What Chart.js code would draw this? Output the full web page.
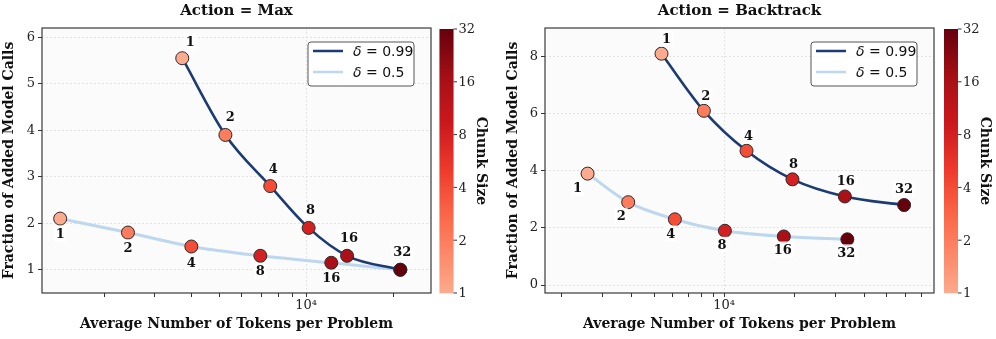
<!DOCTYPE html>
<html>
<head>
<meta charset="utf-8">
<script src="https://cdn.jsdelivr.net/npm/chart.js@4"></script>
<style>
  body { margin: 0; background: #fff; width: 996px; height: 339px; overflow: hidden; display: flex; }
  canvas { display: block; }
</style>
</head>
<body>
<canvas id="maxChart" width="498" height="339"></canvas>
<canvas id="backChart" width="498" height="339"></canvas>
<script>
const chunkSizes = [1, 2, 4, 8, 16, 32];

// Action = Max
const maxTokensHigh = [3730, 5260, 7520, 10210, 13870, 21200];
const maxCallsHigh = [5.55, 3.9, 2.8, 1.9, 1.3, 1.0];
const maxTokensLow = [1410, 2420, 4010, 6950, 12230, 21200];
const maxCallsLow = [2.1, 1.8, 1.5, 1.3, 1.15, 1.0];

// Action = Backtrack
const btTokensHigh = [5380, 8180, 12470, 19640, 32970, 59230];
const btCallsHigh = [8.1, 6.1, 4.7, 3.7, 3.1, 2.8];
const btTokensLow = [2590, 3870, 6140, 10070, 18030, 33790];
const btCallsLow = [3.9, 2.9, 2.3, 1.9, 1.7, 1.6];

const maxYTicks = [1, 2, 3, 4, 5, 6];
const btYTicks = [0, 2, 4, 6, 8];
const xTickValues = [2000, 3000, 4000, 5000, 6000, 7000, 8000, 9000, 10000,
  20000, 30000, 40000, 50000, 60000, 70000, 80000, 90000];
const colorbarTicks = [1, 2, 4, 8, 16, 32];
const legendLabels = ["0.99", "0.5"];

const darkBlue = "#1b3b72";
const lightBlue = "#bcd7ee";
const serif = "'DejaVu Serif', serif";

// matplotlib "Reds", cut to its upper part like the colorbar
const redsStops = ["#fff5f0", "#fee0d2", "#fcbba1", "#fc9272", "#fb6a4a", "#ef3b2c", "#cb181d", "#a50f15", "#67000d"];
function hexRgb(h) {
  return [parseInt(h.slice(1, 3), 16), parseInt(h.slice(3, 5), 16), parseInt(h.slice(5, 7), 16)];
}
function reds(t) {
  const p = Math.max(0, Math.min(1, t)) * (redsStops.length - 1);
  const i = Math.min(Math.floor(p), redsStops.length - 2);
  const f = p - i;
  const a = hexRgb(redsStops[i]), b = hexRgb(redsStops[i + 1]);
  const c = a.map((v, k) => Math.round(v + (b[k] - v) * f));
  return `rgb(${c[0]},${c[1]},${c[2]})`;
}
const chunkColor = c => reds(0.3 + 0.7 * Math.log2(c) / 5);

const panelPlugin = {
  id: "panel",
  beforeDraw(chart) {
    const { ctx, chartArea: a } = chart;
    ctx.save();
    ctx.fillStyle = "#ffffff";
    ctx.fillRect(0, 0, chart.width, chart.height);
    ctx.fillStyle = "#fbfbfb";
    ctx.fillRect(a.left, a.top, a.right - a.left, a.bottom - a.top);
    ctx.restore();
  },
  afterDatasetsDraw(chart) {
    const { ctx } = chart;
    const p = chart.options.plugins.panel;
    ctx.save();
    ctx.font = `bold 13px ${serif}`;
    ctx.textAlign = "center";
    ctx.textBaseline = "middle";
    [0, 1].forEach(di => {
      const meta = chart.getDatasetMeta(di);
      meta.data.forEach((pt, i) => {
        const off = p.offsets[di][i];
        if (!off) return;
        const txt = String(chunkSizes[i]);
        const x = pt.x + off[0], y = pt.y + off[1];
        const w = ctx.measureText(txt).width;
        ctx.fillStyle = "rgba(255,255,255,0.8)";
        ctx.fillRect(x - w / 2 - 2, y - 8, w + 4, 16);
        ctx.fillStyle = "#111";
        ctx.fillText(txt, x, y + 1);
      });
    });
    ctx.restore();
  },
  afterDraw(chart) {
    const { ctx, chartArea: a } = chart;
    const p = chart.options.plugins.panel;
    ctx.save();
    // frame
    ctx.strokeStyle = "#3a3a3a";
    ctx.lineWidth = 1.2;
    ctx.strokeRect(a.left, a.top, a.right - a.left, a.bottom - a.top);

    // title
    ctx.fillStyle = "#111";
    ctx.font = `bold 15px ${serif}`;
    ctx.textAlign = "center";
    ctx.textBaseline = "middle";
    ctx.fillText(p.title, (a.left + a.right) / 2, 11);

    // legend
    const bw = 106, bh = 44;
    const bx = a.right - 17 - bw, by = a.top + 14;
    ctx.beginPath();
    ctx.roundRect(bx, by, bw, bh, 3);
    ctx.fillStyle = "rgba(255,255,255,0.85)";
    ctx.fill();
    ctx.strokeStyle = "#555";
    ctx.lineWidth = 1;
    ctx.stroke();
    [darkBlue, lightBlue].forEach((col, i) => {
      const ry = by + 9 + i * 21;
      ctx.strokeStyle = col;
      ctx.lineWidth = 2.5;
      ctx.beginPath();
      ctx.moveTo(bx + 5, ry);
      ctx.lineTo(bx + 35, ry);
      ctx.stroke();
      ctx.fillStyle = "#111";
      ctx.textAlign = "left";
      ctx.font = "italic 14px 'DejaVu Sans', sans-serif";
      ctx.fillText("δ", bx + 45, ry + 1);
      const dw = ctx.measureText("δ").width;
      ctx.font = "14px 'DejaVu Sans', sans-serif";
      ctx.fillText(" = " + legendLabels[i], bx + 45 + dw, ry + 1);
    });

    // colorbar
    const cx = a.right + p.cbGap, cw = 14;
    const top = a.top + 1, bot = a.bottom;
    for (let y = top; y < bot; y++) {
      const f = (bot - y) / (bot - top);
      ctx.fillStyle = reds(0.3 + 0.7 * f);
      ctx.fillRect(cx, y, cw, 1.2);
    }
    ctx.strokeStyle = "#333";
    ctx.lineWidth = 1;
    ctx.font = `13px ${serif}`;
    ctx.fillStyle = "#222";
    ctx.textAlign = "left";
    colorbarTicks.forEach(c => {
      const y = bot - (Math.log2(c) / 5) * (bot - top);
      ctx.beginPath();
      ctx.moveTo(cx + cw, y);
      ctx.lineTo(cx + cw + 3.5, y);
      ctx.stroke();
      ctx.fillText(String(c), cx + cw + 5, y + 1);
    });
    ctx.translate(cx + cw + 27, (top + bot) / 2);
    ctx.rotate(Math.PI / 2);
    ctx.font = `bold 14px ${serif}`;
    ctx.textAlign = "center";
    ctx.fillStyle = "#111";
    ctx.fillText("Chunk Size", 0, 0);
    ctx.restore();
  }
};

function makeChart(id, cfg) {
  const series = (xs, ys, color, width) => ({
    data: xs.map((x, i) => ({ x, y: ys[i] })),
    borderColor: color,
    borderWidth: width,
    cubicInterpolationMode: "monotone",
    pointRadius: 6.5,
    pointBorderWidth: 1,
    pointBorderColor: "#2a2a2a",
    pointBackgroundColor: chunkSizes.map(chunkColor)
  });

  return new Chart(document.getElementById(id), {
    type: "line",
    data: {
      datasets: [
        series(cfg.highX, cfg.highY, darkBlue, 2.6),
        series(cfg.lowX, cfg.lowY, lightBlue, 3)
      ]
    },
    options: {
      responsive: false,
      animation: false,
      devicePixelRatio: 1,
      layout: { padding: { top: 28, right: cfg.padRight, left: 0, bottom: 0 } },
      plugins: {
        legend: { display: false },
        tooltip: { enabled: false },
        panel: cfg.panel
      },
      scales: {
        x: {
          type: "logarithmic",
          min: cfg.xMin,
          max: cfg.xMax,
          afterBuildTicks: s => {
            s.ticks = xTickValues.filter(v => v >= cfg.xMin && v <= cfg.xMax).map(v => ({ value: v }));
          },
          afterFit: s => { s.height = 46; },
          ticks: {
            autoSkip: false,
            maxRotation: 0,
            padding: 1,
            color: "#222",
            font: { family: serif, size: 13 },
            callback: v => (v === 10000 ? "10⁴" : "")
          },
          grid: {
            color: c => (c.tick && c.tick.value === 10000 ? "#e2e2e2" : "rgba(0,0,0,0)"),
            tickColor: "#333",
            tickLength: 4,
            tickWidth: 1
          },
          border: { display: false, dash: [2, 2] },
          title: {
            display: true,
            text: "Average Number of Tokens per Problem",
            color: "#111",
            font: { family: serif, size: 14, weight: "bold" },
            padding: { top: 0, bottom: 6 }
          }
        },
        y: {
          min: cfg.yMin,
          max: cfg.yMax,
          afterBuildTicks: s => { s.ticks = cfg.yTicks.map(v => ({ value: v })); },
          afterFit: s => { s.width = cfg.yWidth; },
          ticks: { padding: 3, color: "#222", font: { family: serif, size: 13 } },
          grid: { color: "#e2e2e2", tickColor: "#333", tickLength: 4, tickWidth: 1 },
          border: { display: false, dash: [2, 2] },
          title: {
            display: true,
            text: "Fraction of Added Model Calls",
            color: "#111",
            font: { family: serif, size: 14, weight: "bold" },
            padding: { top: cfg.yTitlePad, bottom: 0 }
          }
        }
      }
    },
    plugins: [panelPlugin]
  });
}

makeChart("maxChart", {
  highX: maxTokensHigh, highY: maxCallsHigh,
  lowX: maxTokensLow, lowY: maxCallsLow,
  xMin: 1220, xMax: 27070,
  yMin: 0.5, yMax: 6.2, yTicks: maxYTicks,
  yWidth: 42, padRight: 67, yTitlePad: 1,
  panel: {
    title: "Action = Max",
    offsets: [
      [[8, -17], [5, -18], [3, -17], [2, -18], [2, -18], [2, -18]],
      [[0, 15], [0, 15], [0, 16], [0, 15], [0, 15], null]
    ],
    cbGap: 8.5
  }
});

makeChart("backChart", {
  highX: btTokensHigh, highY: btCallsHigh,
  lowX: btTokensLow, lowY: btCallsLow,
  xMin: 1700, xMax: 79600,
  yMin: -0.28, yMax: 9.0, yTicks: btYTicks,
  yWidth: 47, padRight: 62, yTitlePad: 7,
  panel: {
    title: "Action = Backtrack",
    offsets: [
      [[5, -15], [2, -15], [2, -15], [1, -16], [1, -16], [0, -16]],
      [[-10, 14], [-7, 13.5], [-4, 14], [-3, 14], [-1, 13], [-1, 13]]
    ],
    cbGap: 10
  }
});
</script>
</body>
</html>
